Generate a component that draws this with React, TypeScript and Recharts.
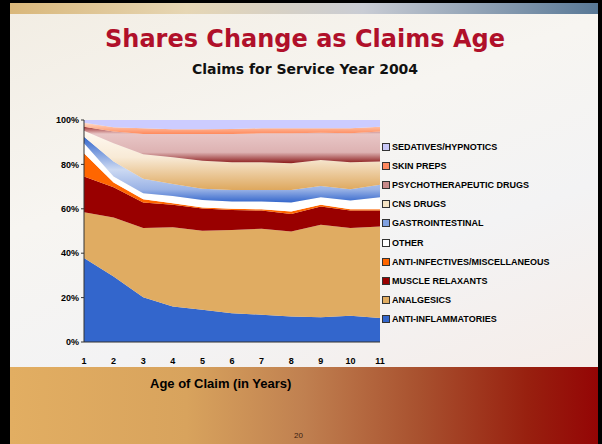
import { Area, AreaChart, XAxis, YAxis } from "recharts";

const ages = [1, 2, 3, 4, 5, 6, 7, 8, 9, 10, 11];

// shares in %, bottom of stack first
const antiInflammatories = [37.8, 29.5, 20.2, 16.0, 14.5, 13.0, 12.3, 11.5, 11.2, 11.8, 10.8];
const analgesics = [20.7, 26.6, 31.1, 35.7, 35.6, 37.5, 38.7, 38.3, 41.6, 39.5, 41.2];
const muscleRelaxants = [16.0, 13.6, 11.5, 10.1, 10.0, 9.0, 8.2, 7.9, 8.2, 7.9, 7.2];
const antiInfectives = [10.5, 2.1, 1.5, 0.7, 0.5, 0.5, 0.6, 1.1, 0.8, 0.6, 0.6];
const other = [4.5, 2.7, 2.7, 3.3, 3.4, 3.3, 3.5, 4.0, 3.4, 3.9, 5.4];
const gastrointestinal = [3.0, 6.8, 6.5, 5.4, 5.0, 5.2, 5.2, 5.7, 5.1, 5.1, 5.6];
const cnsDrugs = [2.7, 8.2, 11.1, 12.0, 12.7, 12.5, 12.5, 12.0, 11.7, 12.2, 10.5];
const psychotherapeutic = [1.8, 5.3, 9.1, 10.5, 12.0, 12.7, 13.0, 13.5, 12.3, 13.0, 13.5];
const skinPreps = [1.8, 1.9, 2.6, 2.1, 2.1, 2.3, 2.3, 2.3, 2.0, 2.3, 2.2];
const sedatives = [1.2, 3.3, 3.7, 4.2, 4.2, 4.0, 3.7, 3.7, 3.7, 3.7, 3.0];

const yTicks = [0, 0.2, 0.4, 0.6, 0.8, 1];

const series = [
  { key: "ai", name: "ANTI-INFLAMMATORIES", values: antiInflammatories, fill: "#3366CC", swatch: "#3366CC" },
  { key: "an", name: "ANALGESICS", values: analgesics, fill: "#E0AC62", swatch: "#E0AC62" },
  { key: "mr", name: "MUSCLE RELAXANTS", values: muscleRelaxants, fill: "#990000", swatch: "#990000" },
  { key: "inf", name: "ANTI-INFECTIVES/MISCELLANEOUS", values: antiInfectives, fill: "#FF6600", swatch: "#FF6600" },
  { key: "ot", name: "OTHER", values: other, fill: "#FFFFFF", swatch: "#FFFFFF" },
  { key: "gi", name: "GASTROINTESTINAL", values: gastrointestinal, fill: "url(#gGi)", swatch: "#7FA0E0" },
  { key: "cns", name: "CNS DRUGS", values: cnsDrugs, fill: "url(#gCns)", swatch: "#F6E4C4" },
  { key: "ps", name: "PSYCHOTHERAPEUTIC DRUGS", values: psychotherapeutic, fill: "url(#gPs)", swatch: "#C88A8A" },
  { key: "sk", name: "SKIN PREPS", values: skinPreps, fill: "url(#gSk)", swatch: "#FF8A60" },
  { key: "se", name: "SEDATIVES/HYPNOTICS", values: sedatives, fill: "#CCCCFF", swatch: "#C8C8F8" },
];

const data = ages.map((age, i) => {
  const row: Record<string, number> = { age };
  series.forEach((s) => (row[s.key] = s.values[i]));
  return row;
});

const arial = "'Liberation Sans', Arial, sans-serif";

export default function App() {
  return (
    <div
      style={{
        position: "absolute",
        left: 0,
        top: 0,
        width: 602,
        height: 444,
        overflow: "hidden",
        background: "#000",
        fontFamily: arial,
      }}
    >
      {/* slide body */}
      <div
        style={{
          position: "absolute",
          left: 10,
          top: 3,
          width: 588,
          height: 441,
          background: "linear-gradient(160deg, #F2EDE3 0%, #F7F5F1 35%, #F3F3F4 60%, #F6EAE4 100%)",
        }}
      />
      <div
        style={{
          position: "absolute",
          left: 10,
          top: 3,
          width: 588,
          height: 11,
          background: "linear-gradient(to right, #D9B77A 0%, #E6D6B4 30%, #C9CCD4 60%, #587896 100%)",
        }}
      />
      <div
        style={{
          position: "absolute",
          left: 10,
          top: 367,
          width: 588,
          height: 77,
          background:
            "linear-gradient(to right, #E2AE62 0%, #D8A35D 30%, #C08050 50%, #A8502E 70%, #98200F 88%, #940505 100%)",
        }}
      />
      <div
        style={{
          position: "absolute",
          left: 0,
          top: 25,
          width: 610,
          textAlign: "center",
          fontFamily: "'DejaVu Sans', Verdana, sans-serif",
          fontWeight: "bold",
          fontSize: 24,
          color: "#B0102A",
        }}
      >
        Shares Change as Claims Age
      </div>
      <div
        style={{
          position: "absolute",
          left: 0,
          top: 61,
          width: 610,
          textAlign: "center",
          fontFamily: "'DejaVu Sans', Verdana, sans-serif",
          fontWeight: "bold",
          fontSize: 14,
          color: "#111",
        }}
      >
        Claims for Service Year 2004
      </div>

      <div style={{ position: "absolute", left: 0, top: 0 }}>
        <AreaChart
          width={602}
          height={444}
          data={data}
          stackOffset="expand"
          margin={{ top: 120, right: 222, bottom: 82, left: 44 }}
        >
          <defs>
            <linearGradient id="gGi" x1="0" y1="0" x2="0" y2="1">
              <stop offset="0%" stopColor="#3366CC" />
              <stop offset="50%" stopColor="#CCD9F2" />
              <stop offset="80%" stopColor="#9AB3E6" />
              <stop offset="100%" stopColor="#3366CC" />
            </linearGradient>
            <linearGradient id="gCns" x1="0" y1="0" x2="0" y2="1">
              <stop offset="0%" stopColor="#FFFAF2" />
              <stop offset="45%" stopColor="#F8EAD6" />
              <stop offset="100%" stopColor="#DEA85E" />
            </linearGradient>
            <linearGradient id="gPs" x1="0" y1="0" x2="0" y2="1">
              <stop offset="0%" stopColor="#A03030" />
              <stop offset="20%" stopColor="#E8C6C6" />
              <stop offset="70%" stopColor="#DDB2B2" />
              <stop offset="100%" stopColor="#8B1A1A" />
            </linearGradient>
            <linearGradient id="gSk" x1="0" y1="0" x2="0" y2="1">
              <stop offset="0%" stopColor="#FFDCCA" />
              <stop offset="100%" stopColor="#FF8A5C" />
            </linearGradient>
          </defs>
          <XAxis
            dataKey="age"
            height={20}
            axisLine={{ stroke: "#333" }}
            tickLine={false}
            tickMargin={10}
            tick={{ fontSize: 9, fontWeight: "bold", fill: "#000", fontFamily: arial }}
            interval={0}
          />
          <YAxis
            width={40}
            ticks={yTicks}
            domain={[0, 1]}
            tickFormatter={(v: number) => `${Math.round(v * 100)}%`}
            axisLine={{ stroke: "#333" }}
            tickLine={{ stroke: "#333" }}
            tickSize={3}
            tick={{ fontSize: 9, fontWeight: "bold", fill: "#000", fontFamily: arial }}
          />
          {series.map((s) => (
            <Area
              key={s.key}
              type="linear"
              dataKey={s.key}
              name={s.name}
              stackId="1"
              stroke="none"
              fill={s.fill}
              fillOpacity={1}
              isAnimationActive={false}
            />
          ))}
        </AreaChart>
      </div>

      {/* legend */}
      <div style={{ position: "absolute", left: 382, top: 137 }}>
        {[...series].reverse().map((s) => (
          <div key={s.key} style={{ display: "flex", alignItems: "center", height: 19.2 }}>
            <div
              style={{
                width: 6,
                height: 6,
                background: s.swatch,
                border: "1px solid #333",
                marginRight: 2,
              }}
            />
            <span style={{ fontSize: 9, fontWeight: "bold", color: "#000", whiteSpace: "nowrap" }}>{s.name}</span>
          </div>
        ))}
      </div>

      <div
        style={{
          position: "absolute",
          left: 150,
          top: 376,
          fontSize: 13,
          fontWeight: "bold",
          color: "#000",
        }}
      >
        Age of Claim (in Years)
      </div>
      <div style={{ position: "absolute", left: 294, top: 431, fontSize: 8, color: "#3A2010" }}>20</div>
    </div>
  );
}
